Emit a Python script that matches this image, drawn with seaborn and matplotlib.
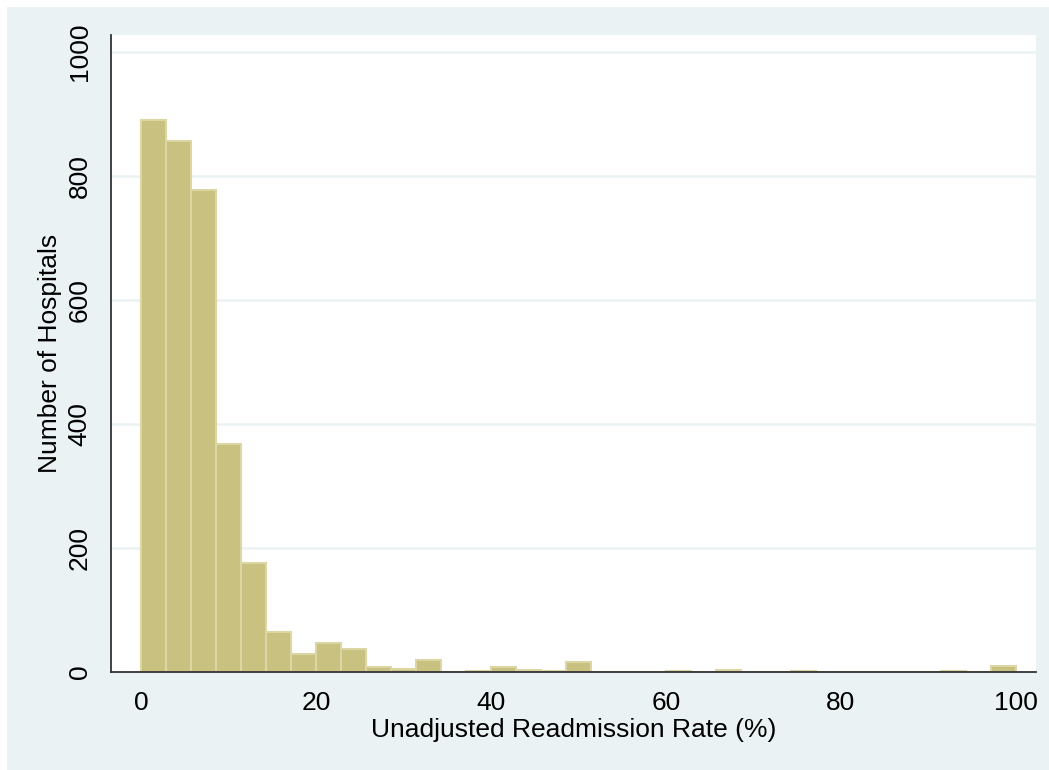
import numpy as np
import pandas as pd
import matplotlib
matplotlib.use("Agg")
import matplotlib.pyplot as plt
from matplotlib.patches import Rectangle
import seaborn as sns

# --------------------------------
# Data (hospital counts per 2.857%-wide bin, 0-100%)
# --------------------------------
n_bins = 35
counts = [890, 856, 777, 368, 176, 64, 29, 47, 37, 8,
          5, 19, 0, 2, 8, 3, 1, 16, 0, 0,
          0, 2, 0, 4, 0, 0, 2, 0, 0, 0,
          0, 0, 2, 0, 10]
x_ticks = [0, 20, 40, 60, 80, 100]
y_ticks = [0, 200, 400, 600, 800, 1000]

width = 100 / n_bins
centers = width * (np.arange(n_bins) + 0.5)
df = pd.DataFrame({"rate": centers, "n": counts})

BG = "#eaf2f3"
FILL = "#c9c17f"
EDGE = "#dcd6a4"

sns.set_style("white")
plt.rcParams["font.family"] = ["Liberation Sans", "DejaVu Sans"]

fig = plt.figure(figsize=(10.49, 7.70), dpi=100, facecolor="white")
# light outer panel (white strip only at top and left)
fig.patches.append(Rectangle((7 / 1049, -0.05), 1.1, 1.05 - 7 / 770,
                             linewidth=0, transform=fig.transFigure,
                             facecolor=BG, zorder=-10))
ax = fig.add_axes([111 / 1049, 98 / 770, 925 / 1049, 637 / 770])
ax.set_zorder(5)
ax.set_facecolor("white")

sns.histplot(data=df, x="rate", weights="n", binwidth=width,
             binrange=(0, 100), ax=ax, color=FILL, alpha=1,
             edgecolor=EDGE, linewidth=1.5, zorder=3)

# grid
for y in y_ticks[1:]:
    ax.axhline(y, color=BG, lw=1.8, zorder=1)

ax.set_xlim(-3.43, 102.3)
ax.set_ylim(0, 1027)
ax.set_xticks(x_ticks)
ax.set_yticks(y_ticks)
ax.set_yticklabels([str(v) for v in y_ticks], rotation=90, va="center")

for s in ["top", "right"]:
    ax.spines[s].set_visible(False)
for s in ["left", "bottom"]:
    ax.spines[s].set_color("#333333")
    ax.spines[s].set_linewidth(1.3)
    ax.spines[s].set_zorder(4)

ax.tick_params(axis="both", direction="out", length=8, width=1.3,
               color="#333333", labelsize=19, labelcolor="black", pad=6)
ax.set_xlabel("Unadjusted Readmission Rate (%)", fontsize=19,
              color="black", labelpad=2)
ax.set_ylabel("Number of Hospitals", fontsize=19, color="black",
              labelpad=4)

fig.savefig("out.png", dpi=100, facecolor=fig.get_facecolor())
